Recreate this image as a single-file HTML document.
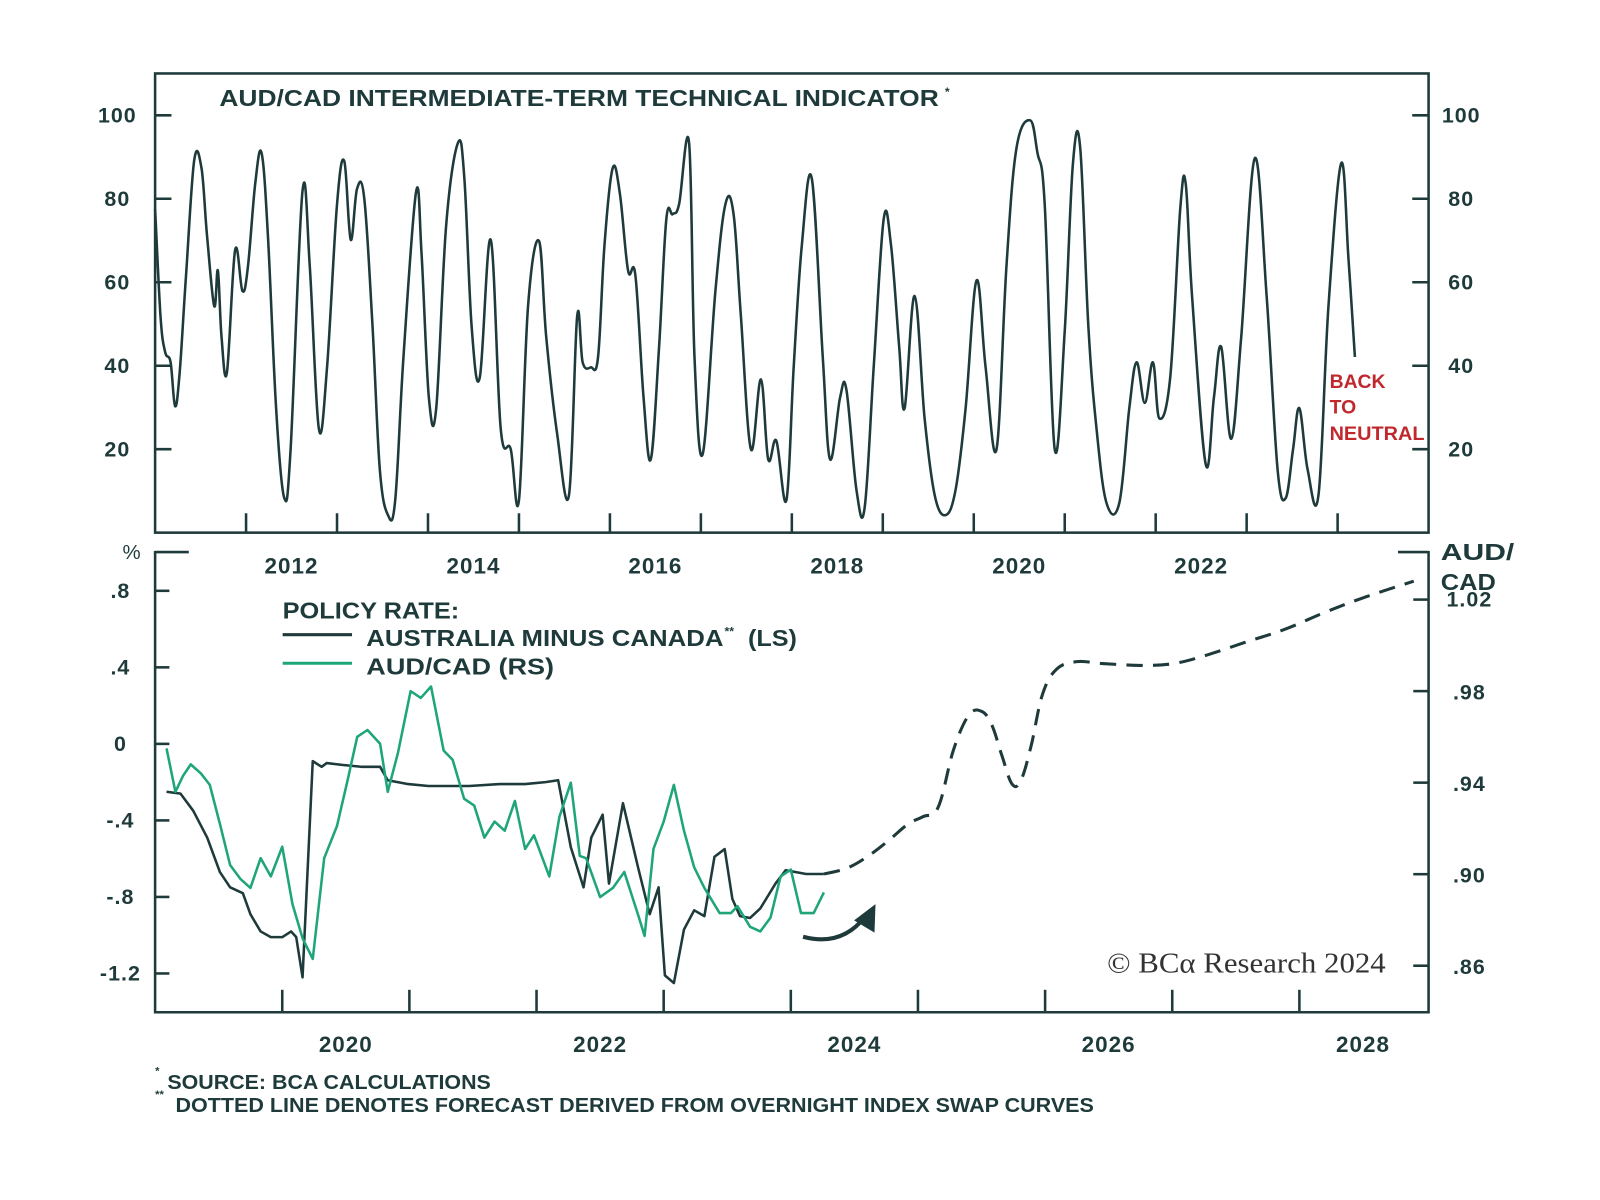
<!DOCTYPE html>
<html><head><meta charset="utf-8"><style>
html,body{margin:0;padding:0;background:#fff;}
svg{display:block;}
text{font-family:"Liberation Sans",sans-serif;fill:#1e3a3a;}
</style></head><body>
<svg id="chart" width="1600" height="1200" viewBox="0 0 1568 1176" preserveAspectRatio="none" xmlns="http://www.w3.org/2000/svg">
<g id="frame" stroke="#1e3a3a" stroke-width="2.5" fill="none">
  <rect x="152" y="72" width="1248" height="450"/>
  <path d="M152 540 V992 H1400 V540 M152 541 H185 M1370 541 H1400"/>
</g>
<g id="topAxes"></g>
<g id="botAxes"></g>
<text x="215" y="104" font-size="23" font-weight="bold" textLength="705" lengthAdjust="spacingAndGlyphs">AUD/CAD INTERMEDIATE-TERM TECHNICAL INDICATOR</text>
<text x="926" y="94" font-size="12" font-weight="bold">*</text>
<g id="topSeries"></g>
<g>
<text x="1303" y="380" font-size="19" font-weight="bold" style="fill:#c0282d">BACK</text>
<text x="1303" y="405" font-size="19" font-weight="bold" style="fill:#c0282d">TO</text>
<text x="1303" y="431" font-size="19" font-weight="bold" style="fill:#c0282d" textLength="93" lengthAdjust="spacingAndGlyphs">NEUTRAL</text>
</g>
<text x="120" y="548" font-size="20">%</text>
<text x="1412" y="549" font-size="23" font-weight="bold" textLength="72" lengthAdjust="spacingAndGlyphs">AUD/</text>
<text x="1412" y="578" font-size="23" font-weight="bold" textLength="54" lengthAdjust="spacingAndGlyphs">CAD</text>
<g>
<text x="277" y="606" font-size="23" font-weight="bold" textLength="173" lengthAdjust="spacingAndGlyphs">POLICY RATE:</text>
<line x1="277" y1="622" x2="345" y2="622" stroke="#1e3a3a" stroke-width="3"/>
<text x="359" y="633" font-size="23" font-weight="bold" textLength="350" lengthAdjust="spacingAndGlyphs">AUSTRALIA MINUS CANADA</text>
<text x="710" y="623" font-size="12" font-weight="bold">**</text>
<text x="733" y="633" font-size="23" font-weight="bold" textLength="48" lengthAdjust="spacingAndGlyphs">(LS)</text>
<line x1="277" y1="650" x2="345" y2="650" stroke="#1fa57a" stroke-width="3"/>
<text x="359" y="661" font-size="23" font-weight="bold" textLength="184" lengthAdjust="spacingAndGlyphs">AUD/CAD (RS)</text>
</g>
<g id="botSeries"></g>
<g>
<path d="M787 918 Q825 928 848 898" stroke="#1e3a3a" stroke-width="4" fill="none"/>
<path d="M858 886 L857 914 L837 902 Z" fill="#1e3a3a"/>
</g>
<text x="1085" y="953" font-size="28" textLength="273" lengthAdjust="spacingAndGlyphs" style="font-family:'Liberation Serif',serif;fill:#333">© BCα Research 2024</text>
<text x="152" y="1053" font-size="11" font-weight="bold">*</text>
<text x="164" y="1067" font-size="20" font-weight="bold" textLength="317" lengthAdjust="spacingAndGlyphs">SOURCE: BCA CALCULATIONS</text>
<text x="152" y="1076" font-size="11" font-weight="bold">**</text>
<text x="172" y="1090" font-size="20" font-weight="bold" textLength="900" lengthAdjust="spacingAndGlyphs">DOTTED LINE DENOTES FORECAST DERIVED FROM OVERNIGHT INDEX SWAP CURVES</text>
</svg>
<script>
const topYears=[2011.00,2011.06,2011.11,2011.17,2011.22,2011.27,2011.34,2011.43,2011.51,2011.57,2011.65,2011.69,2011.73,2011.79,2011.88,2011.96,2012.02,2012.10,2012.17,2012.24,2012.33,2012.42,2012.49,2012.62,2012.70,2012.80,2012.89,2013.00,2013.08,2013.15,2013.22,2013.30,2013.39,2013.47,2013.56,2013.64,2013.73,2013.87,2013.93,2014.01,2014.09,2014.20,2014.33,2014.40,2014.48,2014.57,2014.69,2014.80,2014.91,2015.00,2015.10,2015.22,2015.30,2015.42,2015.55,2015.64,2015.70,2015.79,2015.87,2015.94,2016.03,2016.11,2016.20,2016.28,2016.37,2016.45,2016.54,2016.62,2016.69,2016.76,2016.87,2016.93,2017.02,2017.16,2017.27,2017.36,2017.44,2017.55,2017.66,2017.74,2017.83,2017.94,2018.02,2018.11,2018.22,2018.34,2018.42,2018.53,2018.60,2018.71,2018.80,2018.90,2019.01,2019.09,2019.18,2019.24,2019.35,2019.46,2019.57,2019.69,2019.80,2019.91,2020.03,2020.13,2020.25,2020.36,2020.47,2020.62,2020.70,2020.78,2020.89,2021.00,2021.09,2021.17,2021.26,2021.35,2021.46,2021.60,2021.71,2021.79,2021.88,2021.97,2022.04,2022.16,2022.27,2022.33,2022.40,2022.55,2022.64,2022.72,2022.83,2022.94,2023.09,2023.22,2023.34,2023.43,2023.51,2023.58,2023.67,2023.79,2023.90,2024.04,2024.12,2024.19];
const topValues=[77.5,51.8,43.3,40.8,30.3,38.4,61.6,89.2,87.3,71.4,54.3,62.8,46.9,38.4,67.7,57.9,63.6,83.6,91.0,71.4,29.8,8.3,20.0,81.7,64.1,24.9,39.6,78.7,89.0,70.2,82.4,80.0,49.4,15.2,4.2,7.8,42.1,81.7,66.5,32.3,29.8,73.8,93.4,84.8,49.4,37.2,70.2,24.9,20.0,7.8,54.3,69.9,46.9,23.7,9.0,51.8,40.8,39.6,42.1,68.9,87.3,81.2,62.8,61.6,32.3,17.6,44.5,75.1,76.3,78.7,93.4,42.1,18.8,57.9,78.7,76.3,51.8,20.0,36.7,17.6,22.0,7.8,39.6,68.9,84.8,42.1,17.6,32.3,34.2,10.3,5.9,39.6,75.1,68.9,44.5,29.8,56.7,27.4,9.0,4.2,10.3,29.8,60.4,39.6,20.0,64.1,92.2,98.8,91.0,78.7,20.0,48.2,88.5,92.2,49.4,24.9,7.1,7.1,29.8,40.8,31.1,40.8,27.4,37.2,77.5,83.6,56.7,16.4,32.3,44.5,22.5,46.9,89.7,56.7,15.2,8.3,20.0,29.8,15.2,9.0,54.3,88.5,65.3,42.1];
const topTicks=[20,40,60,80,100];
const topYearLabels=[2012,2014,2016,2018,2020,2022];
const policyYears=[2019.09,2019.20,2019.30,2019.41,2019.51,2019.59,2019.69,2019.75,2019.83,2019.91,2020.00,2020.07,2020.11,2020.16,2020.24,2020.31,2020.35,2020.47,2020.63,2020.77,2020.83,2020.99,2021.15,2021.47,2021.71,2021.91,2022.07,2022.17,2022.27,2022.37,2022.43,2022.52,2022.57,2022.68,2022.80,2022.89,2022.96,2023.01,2023.08,2023.16,2023.24,2023.32,2023.40,2023.48,2023.54,2023.60,2023.68,2023.76,2023.88,2023.96,2024.12,2024.26];
const policyValues=[-0.25,-0.26,-0.35,-0.49,-0.67,-0.75,-0.78,-0.89,-0.98,-1.01,-1.01,-0.98,-1.01,-1.22,-0.09,-0.12,-0.10,-0.11,-0.12,-0.12,-0.19,-0.21,-0.22,-0.22,-0.21,-0.21,-0.20,-0.19,-0.54,-0.75,-0.49,-0.37,-0.73,-0.31,-0.65,-0.89,-0.75,-1.21,-1.25,-0.97,-0.87,-0.90,-0.59,-0.55,-0.81,-0.90,-0.91,-0.86,-0.73,-0.66,-0.68,-0.68];
const forecastYears=[2024.26,2024.44,2024.60,2024.76,2024.92,2025.04,2025.16,2025.28,2025.40,2025.50,2025.58,2025.66,2025.74,2025.81,2025.89,2025.98,2026.09,2026.25,2026.45,2026.77,2027.01,2027.25,2027.57,2027.89,2028.21,2028.53,2028.90];
const forecastValues=[-0.68,-0.65,-0.59,-0.51,-0.42,-0.38,-0.33,-0.03,0.15,0.17,0.10,-0.06,-0.21,-0.19,-0.01,0.26,0.39,0.43,0.42,0.41,0.42,0.46,0.53,0.60,0.69,0.77,0.85];
const fxYears=[2019.09,2019.16,2019.22,2019.28,2019.36,2019.43,2019.51,2019.59,2019.67,2019.75,2019.83,2019.91,2020.00,2020.08,2020.16,2020.24,2020.33,2020.43,2020.51,2020.59,2020.67,2020.77,2020.83,2020.91,2021.01,2021.09,2021.17,2021.27,2021.34,2021.43,2021.51,2021.59,2021.67,2021.75,2021.83,2021.91,2021.98,2022.10,2022.18,2022.27,2022.34,2022.39,2022.50,2022.60,2022.69,2022.80,2022.85,2022.92,2023.00,2023.08,2023.16,2023.24,2023.32,2023.44,2023.53,2023.58,2023.68,2023.76,2023.84,2023.92,2024.00,2024.08,2024.18,2024.26];
const fxValues=[0.955,0.936,0.943,0.948,0.944,0.939,0.922,0.904,0.898,0.894,0.907,0.899,0.912,0.887,0.872,0.863,0.907,0.921,0.940,0.960,0.963,0.957,0.936,0.953,0.980,0.977,0.982,0.954,0.950,0.933,0.930,0.916,0.923,0.919,0.932,0.911,0.917,0.899,0.925,0.940,0.908,0.907,0.890,0.894,0.901,0.882,0.873,0.911,0.923,0.939,0.919,0.903,0.894,0.883,0.883,0.886,0.877,0.875,0.881,0.899,0.902,0.883,0.883,0.892];
const leftTicks=[0.8,0.4,0,-0.4,-0.8,-1.2];
const leftTickLabels=[".8",".4","0","-.4","-.8","-1.2"];
const rightTicks=[1.02,0.98,0.94,0.90,0.86];
const rightTickLabels=["1.02",".98",".94",".90",".86"];
const botYearLabels=[2020,2022,2024,2026,2028];

const NS="http://www.w3.org/2000/svg";
function mk(tag,attrs,parent){const e=document.createElementNS(NS,tag);for(const k in attrs)e.setAttribute(k,attrs[k]);parent.appendChild(e);return e;}
const tx=y=>152+(y-2011)*(1248/14);
const ty=v=>522-v*4.09;
const bx=y=>152+(y-2019)*124.6;
const by=v=>729-v*187.5;
const ry=v=>767-(v-0.94)*(89.7/0.04);
const LS='letter-spacing:1px';

const tA=document.getElementById('topAxes');
topTicks.forEach(t=>{
  const l=mk('path',{d:`M152 ${ty(t)} H168 M1384 ${ty(t)} H1400`,stroke:'#1e3a3a','stroke-width':2.5},tA);
  
  
  const a=mk('text',{x:115,y:ty(t)+7,'font-size':21,'font-weight':'bold','text-anchor':'middle',style:LS},tA);a.textContent=t;
  
  
  const b=mk('text',{x:1432,y:ty(t)+7,'font-size':21,'font-weight':'bold','text-anchor':'middle',style:LS},tA);b.textContent=t;
  
  
});
for(let yr=2012;yr<=2024;yr++){
  const l=mk('line',{x1:tx(yr),x2:tx(yr),y1:522,y2:503,stroke:'#1e3a3a','stroke-width':2.5},tA);
  
  
}
topYearLabels.forEach(yr=>{
  const t=mk('text',{x:tx(yr+0.5),y:562,'font-size':22,'font-weight':'bold','text-anchor':'middle',style:LS},tA);t.textContent=yr;
  
  
});
const bA=document.getElementById('botAxes');
leftTicks.forEach((t,i)=>{
  const l=mk('line',{x1:152,x2:166,y1:by(t),y2:by(t),stroke:'#1e3a3a','stroke-width':2.5},bA);
  
  
  const a=mk('text',{x:118,y:by(t)+7,'font-size':21,'font-weight':'bold','text-anchor':'middle',style:LS},bA);a.textContent=leftTickLabels[i];
  
  
});
rightTicks.forEach((t,i)=>{
  const l=mk('line',{x1:1385,x2:1400,y1:ry(t),y2:ry(t),stroke:'#1e3a3a','stroke-width':2.5},bA);
  
  
  const a=mk('text',{x:1440,y:ry(t)+(i==0?7:8),'font-size':21,'font-weight':'bold','text-anchor':'middle',style:LS},bA);a.textContent=rightTickLabels[i];
  
  
});
for(let yr=2020;yr<=2028;yr++){
  const l=mk('line',{x1:bx(yr),x2:bx(yr),y1:992,y2:970,stroke:'#1e3a3a','stroke-width':2.5},bA);
  
  
}
botYearLabels.forEach(yr=>{
  const t=mk('text',{x:bx(yr+0.5),y:1031,'font-size':22,'font-weight':'bold','text-anchor':'middle',style:LS},bA);t.textContent=yr;
  
  
});
function pts(xs,vs,fx,fy){return xs.map((x,i)=>fx(x).toFixed(1)+','+fy(vs[i]).toFixed(1)).join(' ');}
function smooth(xs,vs,fx,fy){
  const p=xs.map((x,i)=>[fx(x),fy(vs[i])]);
  let d='M'+p[0][0].toFixed(1)+' '+p[0][1].toFixed(1);
  const k=0.18;
  for(let i=0;i<p.length-1;i++){
    const p0=p[Math.max(0,i-1)],p1=p[i],p2=p[i+1],p3=p[Math.min(p.length-1,i+2)];
    const c1=[p1[0]+(p2[0]-p0[0])*k,p1[1]+(p2[1]-p0[1])*k];
    const c2=[p2[0]-(p3[0]-p1[0])*k,p2[1]-(p3[1]-p1[1])*k];
    d+=` C${c1[0].toFixed(1)} ${c1[1].toFixed(1)} ${c2[0].toFixed(1)} ${c2[1].toFixed(1)} ${p2[0].toFixed(1)} ${p2[1].toFixed(1)}`;
  }
  return d;
}
const tS=document.getElementById('topSeries');
const p1=mk('path',{d:smooth(topYears,topValues,tx,ty),fill:'none',stroke:'#1e3a3a','stroke-width':2.5,'stroke-linejoin':'round'},tS);


const bS=document.getElementById('botSeries');
const p2=mk('polyline',{points:pts(policyYears,policyValues,bx,by),fill:'none',stroke:'#1e3a3a','stroke-width':2.5,'stroke-linejoin':'round'},bS);


const p3=mk('path',{d:smooth(forecastYears,forecastValues,bx,by),fill:'none',stroke:'#1e3a3a','stroke-width':3,'stroke-dasharray':'16 10'},bS);


const p4=mk('polyline',{points:pts(fxYears,fxValues,bx,ry),fill:'none',stroke:'#1fa57a','stroke-width':2.5,'stroke-linejoin':'round'},bS);


</script>
</body></html>
